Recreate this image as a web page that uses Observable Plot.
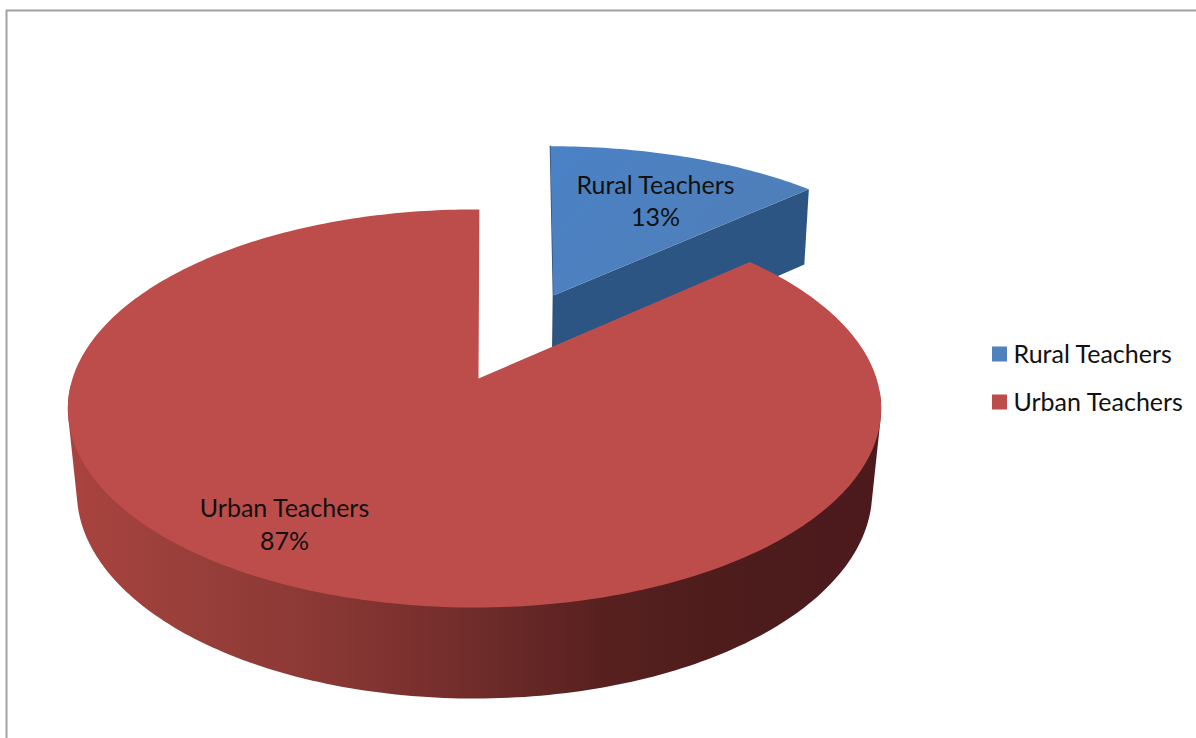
<!DOCTYPE html>
<html>
<head>
<meta charset="utf-8">
<script src="https://cdn.jsdelivr.net/npm/d3@7"></script>
<script src="https://cdn.jsdelivr.net/npm/@observablehq/plot@0.6"></script>
<style>
html,body{margin:0;padding:0;background:#fff;overflow:hidden}
svg{display:block}
</style>
</head>
<body>
<div id="chart"></div>
<script>
// Data
const categories = ["Rural Teachers", "Urban Teachers"];
const shares = [13, 87];

// Styles and layout
const topColors = ["#4f81bd", "#bd4d4a"];
const labelX = [655, 284];
const labelY = [199, 522.5];
const legendTextY = [354, 402];
const fontFamily = "Lato, Carlito, sans-serif";
const fontSize = 25;

// Perspective view of a flat disc: u right, v toward the viewer
function view(p) {
  return (u, v) => {
    const den = 1 - p.k * v;
    return [p.x0 + (p.a * u + p.c * v) / den, p.y0 + (p.b * v) / den];
  };
}
const redTop = view({x0: 474, y0: 378, a: 402, b: 194.5, k: 0.1507, c: 0});
const redBottom = view({x0: 474, y0: 460, a: 393, b: 201.7, k: 0.1526, c: 0});
const blueTop = view({x0: 478, y0: 378, a: 414, b: 194.5, k: 0.1507, c: -7.65});
const blueBottom = view({x0: 478, y0: 460, a: 409, b: 201.7, k: 0.1526, c: -7.65});

const total = d3.sum(shares);
const boundary = (shares[0] / total) * 360;
const rad = d => (d * Math.PI) / 180;

function rim(fn, from, to, du = 0, dv = 0, rot = 0) {
  const n = Math.max(2, Math.ceil(Math.abs(to - from)));
  return d3.range(n + 1).map(i => {
    const t = rad(from + ((to - from) * i) / n + rot);
    return fn(du + Math.sin(t), dv - Math.cos(t));
  });
}

// Exploded slice offset along its bisector
const explodeU = 0.185;
const explodeV = -0.456;

// Top and rim outlines
const rot = 0.8;
const redFace = [[478, 378], ...rim(redTop, boundary + 1.2, 360, 0, 0, rot)];
const redSide = d3.polygonHull([
  ...rim(redTop, 93, 267, 0, 0, rot),
  ...rim(redBottom, 93, 267, 0, 0, rot)
]);

const blueApex = blueTop(explodeU, explodeV);
const blueFace = [blueApex, ...rim(blueTop, 0, boundary, explodeU, explodeV)];
const blueCorner = blueFace[blueFace.length - 1];
const blueApexLow = blueBottom(explodeU, explodeV);
const blueCornerLow = rim(blueBottom, boundary, boundary, explodeU, explodeV)[0];
const blueSide = [blueApex, blueCorner, blueCornerLow, blueApexLow];
const blueEdge = [blueFace[1], blueApex, blueApexLow];

const poly = (pts, fill) =>
  Plot.line(pts, {x: d => d[0], y: d => d[1], fill, stroke: "none", curve: "linear-closed"});

const defs = () => {
  const ns = "http://www.w3.org/2000/svg";
  const d = document.createElementNS(ns, "defs");
  const make = (id, x1, y1, x2, y2, stops) => {
    const g = document.createElementNS(ns, "linearGradient");
    g.setAttribute("id", id);
    g.setAttribute("gradientUnits", "userSpaceOnUse");
    g.setAttribute("x1", x1); g.setAttribute("y1", y1);
    g.setAttribute("x2", x2); g.setAttribute("y2", y2);
    stops.forEach(([o, c]) => {
      const s = document.createElementNS(ns, "stop");
      s.setAttribute("offset", o); s.setAttribute("stop-color", c);
      g.appendChild(s);
    });
    d.appendChild(g);
  };
  make("redSide", 70, 0, 880, 0, [
    [0, "#a9433f"], [0.15, "#983f3a"], [0.3, "#8b3835"], [0.5, "#702c2a"],
    [0.65, "#582120"], [0.8, "#4d1c1b"], [1, "#4c1a1d"]
  ]);
  make("blueFace", 550, 145, 700, 290, [
    [0, "#4a82c6"], [1, "#4f7fb9"]
  ]);
  return d;
};

const labels = categories.map((c, i) => ({
  text: `${c}\n${shares[i]}%`, x: labelX[i], y: labelY[i]
}));
const legend = categories.map((c, i) => ({
  name: c, color: topColors[i], y: legendTextY[i]
}));

const chart = Plot.plot({
  width: 1196,
  height: 738,
  margin: 0,
  style: {background: "#fff", fontFamily},
  x: {domain: [0, 1196], range: [0, 1196], axis: null},
  y: {domain: [0, 738], range: [0, 738], axis: null},
  marks: [
    defs,
    Plot.ruleY([10], {x1: 6, x2: 1196, stroke: "#a2a2a2", strokeWidth: 2}),
    Plot.ruleX([6], {y1: 10, y2: 738, stroke: "#a2a2a2", strokeWidth: 2}),
    poly(blueSide, "#2c5583"),
    Plot.line(blueEdge, {x: d => d[0], y: d => d[1], stroke: "#2c5079", strokeWidth: 1.5}),
    poly(blueFace, "url(#blueFace)"),
    poly(redSide, "url(#redSide)"),
    poly(redFace, topColors[1]),
    Plot.text(labels, {
      x: "x", y: "y", text: "text", fontSize, lineHeight: 1.3,
      fill: "#111", textAnchor: "middle", fontFamily
    }),
    Plot.rect(legend, {
      x1: () => 992, x2: () => 1007,
      y1: d => d.y - 7.5, y2: d => d.y + 7.5, fill: "color"
    }),
    Plot.text(legend, {
      x: () => 1013, y: "y", text: "name", fontSize,
      fill: "#111", textAnchor: "start", fontFamily
    })
  ]
});
document.getElementById("chart").appendChild(chart);
</script>
</body>
</html>
